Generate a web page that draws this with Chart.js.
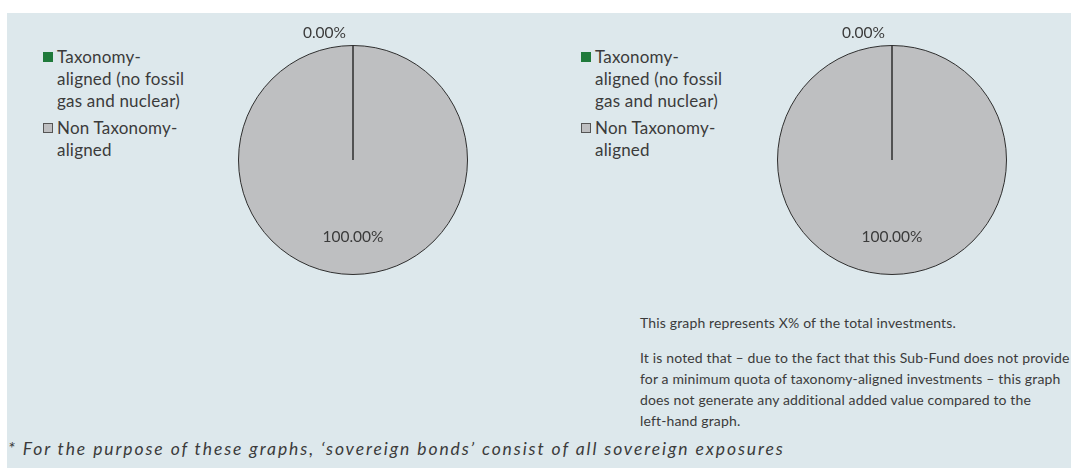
<!DOCTYPE html>
<html>
<head>
<meta charset="utf-8">
<script src="https://cdn.jsdelivr.net/npm/chart.js@4.4.1/dist/chart.umd.min.js"></script>
<style>
  html, body { margin: 0; padding: 0; background: #fff; }
  body { width: 1071px; height: 468px; position: relative; overflow: hidden; font-family: Lato, sans-serif; color: #3b3b3b; }
  .panel { position: absolute; left: 7px; top: 13px; width: 1064px; height: 455px; background: #dde8ec; }
  .pie { position: absolute; width: 300px; height: 300px; }
  .legend { position: absolute; font-size: 17px; line-height: 22px; letter-spacing: 0.2px; }
  .legend .item { position: relative; padding-left: 14px; margin-bottom: 5px; }
  .legend .box { position: absolute; left: 0; top: 6px; width: 10px; height: 10px; box-sizing: border-box; }
  .note { position: absolute; left: 633px; top: 299px; width: 440px; font-size: 14px; line-height: 21px; letter-spacing: 0.15px; }
  .note p { margin: 0 0 14px 0; }
  .foot { position: absolute; left: 1px; top: 425px; font-size: 17.5px; font-style: italic; letter-spacing: 1.9px; white-space: nowrap; }
</style>
</head>
<body>
<div class="panel">
  <div class="legend" id="legendLeft" style="left:36px; top:33px;"></div>
  <div class="legend" id="legendRight" style="left:574px; top:33px;"></div>
  <div class="pie" style="left:196px; top:-3px;"><canvas id="pieLeft"></canvas></div>
  <div class="pie" style="left:735px; top:-3px;"><canvas id="pieRight"></canvas></div>
  <div class="note">
    <p>This graph represents X% of the total investments.</p>
    <p>It is noted that – due to the fact that this Sub-Fund does not provide<br>for a minimum quota of taxonomy-aligned investments – this graph<br>does not generate any additional added value compared to the<br>left-hand graph.</p>
  </div>
  <div class="foot">* For the purpose of these graphs, ‘sovereign bonds’ consist of all sovereign exposures</div>
</div>
<script>
const categories = ['Taxonomy-aligned (no fossil gas and nuclear)', 'Non Taxonomy-aligned'];
const legendLines = [
  ['Taxonomy-', 'aligned (no fossil', 'gas and nuclear)'],
  ['Non Taxonomy-', 'aligned'],
];
// 1. including sovereign bonds, 2. excluding sovereign bonds
const includingSovereign = [0, 100];
const excludingSovereign = [0, 100];

const sliceColors = ['#1f7a3b', '#bebfc1'];
const boxBorders = ['#1f7a3b', '#555'];

// percentage labels: thin slices go outside the rim, others inside
const sliceLabels = {
  id: 'sliceLabels',
  afterDatasetsDraw(chart) {
    const ctx = chart.ctx;
    const values = chart.data.datasets[0].data;
    ctx.save();
    ctx.font = '15.5px Lato';
    ctx.fillStyle = '#3b3b3b';
    ctx.textBaseline = 'middle';
    chart.getDatasetMeta(0).data.forEach((arc, i) => {
      const p = arc.getProps(['x', 'y', 'startAngle', 'endAngle', 'outerRadius'], true);
      const mid = (p.startAngle + p.endAngle) / 2;
      const text = values[i].toFixed(2) + '%';
      if (p.endAngle - p.startAngle < 0.3) {
        const r = p.outerRadius + 13;
        ctx.textAlign = 'right';
        ctx.fillText(text, p.x + Math.cos(mid) * r - 7, p.y + Math.sin(mid) * r);
      } else {
        const r = p.outerRadius * 0.675;
        ctx.textAlign = 'center';
        ctx.fillText(text, p.x + Math.cos(mid) * r, p.y + Math.sin(mid) * r);
      }
    });
    ctx.restore();
  }
};

function makeLegend(el) {
  el.innerHTML = categories.map((c, i) =>
    '<div class="item"><span class="box" style="background:' + sliceColors[i] +
    ';border:1px solid ' + boxBorders[i] + '"></span>' + legendLines[i].join('<br>') + '</div>'
  ).join('');
}

function makePie(id, values) {
  return new Chart(document.getElementById(id), {
    type: 'pie',
    data: {
      labels: categories,
      datasets: [{
        data: values,
        backgroundColor: sliceColors,
        borderColor: '#2e2e2e',
        borderWidth: 1,
      }],
    },
    options: {
      responsive: false,
      animation: false,
      layout: { padding: 35 },
      plugins: {
        legend: { display: false },
        tooltip: { enabled: false },
      },
    },
    plugins: [sliceLabels],
  });
}

['pieLeft', 'pieRight'].forEach(id => {
  document.getElementById(id).width = 300;
  document.getElementById(id).height = 300;
});

makeLegend(document.getElementById('legendLeft'));
makeLegend(document.getElementById('legendRight'));
makePie('pieLeft', includingSovereign);
makePie('pieRight', excludingSovereign);
</script>
</body>
</html>
